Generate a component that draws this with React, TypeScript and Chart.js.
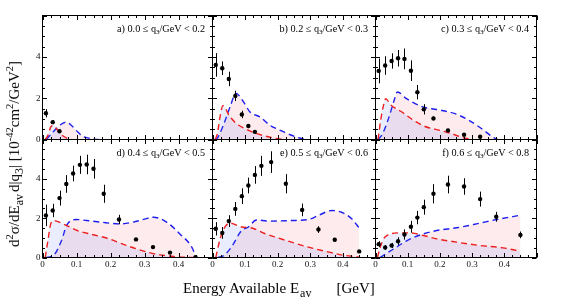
import React, { useEffect, useRef } from "react";
import { Chart, registerables } from "chart.js";
Chart.register(...registerables);

// ---------- data ----------
const panelLetters = ["a", "b", "c", "d", "e", "f"];
const q3Low = [0.0, 0.2, 0.3, 0.4, 0.5, 0.6];
const q3High = [0.2, 0.3, 0.4, 0.5, 0.6, 0.8];

const xTickLabels = ["0", "0.1", "0.2", "0.3", "0.4"];
const xTickValues = [0, 0.1, 0.2, 0.3, 0.4];
const yTickLabels = ["0", "2", "4"];
const yTickValues = [0, 2, 4];

const aX = [0.01, 0.03, 0.05];
const aY = [1.27, 0.84, 0.4];
const aE = [0.2, 0.1, 0.08];
const aRedX = [0.008, 0.016, 0.024, 0.031, 0.041, 0.055, 0.07, 0.085];
const aRedY = [0, 0.2, 0.6, 0.68, 0.52, 0.24, 0.08, 0];
const aBlueX = [0.011, 0.031, 0.05, 0.07, 0.085, 0.104, 0.119, 0.134, 0.153, 0.165];
const aBlueY = [0, 0.36, 0.68, 0.84, 0.68, 0.36, 0.15, 0.08, 0.02, 0];

const bX = [0.01, 0.03, 0.05, 0.07, 0.09, 0.11, 0.13];
const bY = [3.61, 3.45, 2.93, 2.11, 1.21, 0.65, 0.37];
const bE = [0.57, 0.33, 0.35, 0.25, 0.18, 0.1, 0.08];
const bRedX = [0.008, 0.015, 0.023, 0.032, 0.052, 0.074, 0.1, 0.136, 0.177, 0.2, 0.22];
const bRedY = [0, 0.28, 1.09, 1.64, 1.14, 0.76, 0.52, 0.28, 0.11, 0.04, 0];
const bBlueX = [0.008, 0.013, 0.033, 0.054, 0.072, 0.095, 0.115, 0.146, 0.177, 0.208, 0.238, 0.27, 0.285];
const bBlueY = [0, 0.03, 0.68, 1.58, 2.23, 1.82, 1.33, 1.09, 0.68, 0.44, 0.23, 0.06, 0];

const cX = [0.01, 0.03, 0.05, 0.07, 0.09, 0.11, 0.13, 0.15, 0.18, 0.225, 0.275, 0.325];
const cY = [3.32, 3.58, 3.8, 3.93, 3.9, 3.33, 2.29, 1.46, 1.02, 0.44, 0.23, 0.13];
const cE = [0.6, 0.45, 0.37, 0.4, 0.5, 0.5, 0.35, 0.25, 0.1, 0.08, 0.06, 0.05];
const cRedX = [0.008, 0.016, 0.025, 0.032, 0.046, 0.082, 0.118, 0.154, 0.2, 0.237, 0.267, 0.29, 0.3];
const cRedY = [0, 0.93, 1.66, 1.98, 1.69, 1.33, 0.93, 0.63, 0.44, 0.28, 0.11, 0.03, 0];
const cBlueX = [0.008, 0.022, 0.042, 0.058, 0.068, 0.096, 0.147, 0.19, 0.247, 0.29, 0.33, 0.365, 0.38];
const cBlueY = [0, 0.28, 1.09, 1.9, 2.3, 1.98, 1.58, 1.45, 1.25, 0.93, 0.52, 0.11, 0];

const dX = [0.01, 0.03, 0.05, 0.07, 0.09, 0.11, 0.13, 0.15, 0.18, 0.225, 0.275, 0.325, 0.375, 0.45];
const dY = [2.14, 2.39, 3.02, 3.74, 4.27, 4.71, 4.73, 4.51, 3.24, 1.93, 0.92, 0.53, 0.25, 0.02];
const dE = [0.55, 0.34, 0.38, 0.45, 0.4, 0.46, 0.5, 0.5, 0.46, 0.24, 0.06, 0.05, 0.04, 0.03];
const dRedX = [0.008, 0.016, 0.023, 0.031, 0.07, 0.104, 0.144, 0.19, 0.235, 0.28, 0.32, 0.36, 0.4, 0.45];
const dRedY = [0, 0.86, 1.63, 1.88, 1.63, 1.36, 1.18, 0.98, 0.69, 0.42, 0.22, 0.1, 0.03, 0];
const dBlueX = [0.01, 0.032, 0.056, 0.071, 0.1, 0.13, 0.17, 0.228, 0.267, 0.3, 0.326, 0.365, 0.404, 0.439, 0.452];
const dBlueY = [0, 0.1, 0.86, 1.63, 1.93, 1.88, 1.8, 1.71, 1.8, 1.95, 2.05, 1.8, 1.2, 0.53, 0];

const eX = [0.01, 0.03, 0.05, 0.07, 0.09, 0.11, 0.13, 0.15, 0.18, 0.225, 0.275, 0.325, 0.375, 0.45];
const eY = [1.46, 1.25, 1.85, 2.47, 3.12, 3.66, 4.2, 4.66, 4.85, 3.75, 2.42, 1.42, 0.9, 0.31];
const eE = [0.34, 0.3, 0.3, 0.35, 0.4, 0.4, 0.45, 0.51, 0.55, 0.49, 0.32, 0.17, 0.08, 0.06];
const eRedX = [0.01, 0.022, 0.032, 0.053, 0.09, 0.118, 0.16, 0.2, 0.25, 0.3, 0.35, 0.4, 0.45];
const eRedY = [0, 0.86, 1.37, 1.75, 1.55, 1.51, 1.22, 1.0, 0.74, 0.5, 0.3, 0.12, 0.02];
const eBlueX = [0.017, 0.035, 0.058, 0.089, 0.109, 0.135, 0.171, 0.243, 0.294, 0.325, 0.366, 0.396, 0.427, 0.45];
const eBlueY = [0, 0.1, 0.53, 1.37, 1.54, 1.91, 1.85, 1.88, 1.93, 2.14, 2.39, 2.3, 1.97, 1.5];

const fX = [0.01, 0.03, 0.05, 0.07, 0.09, 0.11, 0.13, 0.15, 0.18, 0.225, 0.275, 0.325, 0.375, 0.45];
const fY = [0.68, 0.51, 0.61, 0.83, 1.17, 1.56, 2.03, 2.56, 3.24, 3.71, 3.61, 2.97, 2.07, 1.15];
const fE = [0.15, 0.12, 0.13, 0.2, 0.26, 0.3, 0.34, 0.38, 0.49, 0.45, 0.42, 0.38, 0.25, 0.17];
const fRedX = [0.006, 0.015, 0.025, 0.036, 0.067, 0.108, 0.149, 0.19, 0.252, 0.324, 0.396, 0.45];
const fRedY = [0, 0.53, 0.95, 1.12, 1.25, 1.25, 1.12, 0.95, 0.78, 0.61, 0.49, 0.32];
const fBlueX = [0.014, 0.057, 0.098, 0.139, 0.19, 0.252, 0.314, 0.376, 0.45];
const fBlueY = [0, 0.44, 0.86, 1.15, 1.37, 1.51, 1.71, 1.93, 2.15];

// ---------- layout / style ----------
const W = 565;
const H = 308;
const colEdges = [42.5, 212.5, 375.5, 536.5];
const rowEdges = [15.5, 139.5, 257.5];
const SERIF = '"Liberation Serif", "Times New Roman", serif';
const RED = "rgb(238,30,30)";
const BLUE = "rgb(30,30,238)";
const RED_FILL = "rgba(70,110,235,0.12)";
const BLUE_FILL = "rgba(235,60,80,0.10)";

const panels = [
  { x: aX, y: aY, e: aE, rx: aRedX, ry: aRedY, bx: aBlueX, by: aBlueY },
  { x: bX, y: bY, e: bE, rx: bRedX, ry: bRedY, bx: bBlueX, by: bBlueY },
  { x: cX, y: cY, e: cE, rx: cRedX, ry: cRedY, bx: cBlueX, by: cBlueY },
  { x: dX, y: dY, e: dE, rx: dRedX, ry: dRedY, bx: dBlueX, by: dBlueY },
  { x: eX, y: eY, e: eE, rx: eRedX, ry: eRedY, bx: eBlueX, by: eBlueY },
  { x: fX, y: fY, e: fE, rx: fRedX, ry: fRedY, bx: fBlueX, by: fBlueY },
];

const pts = (xs: number[], ys: number[]) => xs.map((x, i) => ({ x, y: ys[i] }));

const framePlugin = {
  id: "rootFrame",
  afterDatasetsDraw(chart: any, _args: any, opts: any) {
    const ctx = chart.ctx;
    const xs = chart.scales.x;
    const ys = chart.scales.y;
    ctx.save();
    ctx.strokeStyle = "#000";
    ctx.lineWidth = 1;
    const err: number[] = opts.err || [];
    const vx: number[] = opts.vx || [];
    const vy: number[] = opts.vy || [];
    for (let i = 0; i < vx.length; i++) {
      const px = Math.round(xs.getPixelForValue(vx[i])) + 0.5;
      ctx.beginPath();
      ctx.moveTo(px, ys.getPixelForValue(vy[i] - err[i]));
      ctx.lineTo(px, ys.getPixelForValue(vy[i] + err[i]));
      ctx.stroke();
    }
    ctx.restore();
  },
  afterDraw(chart: any, _args: any, opts: any) {
    const ctx = chart.ctx;
    const { left, right, top, bottom } = chart.chartArea;
    const xs = chart.scales.x;
    const ys = chart.scales.y;
    ctx.save();
    ctx.strokeStyle = "#000";
    ctx.lineWidth = 1;
    ctx.strokeRect(left, top, right - left, bottom - top);
    ctx.beginPath();
    for (let k = 0; k <= 20; k++) {
      const v = k * 0.025;
      const len = k % 4 === 0 ? 4.5 : 2.5;
      const px = Math.round(xs.getPixelForValue(v)) + 0.5;
      ctx.moveTo(px, bottom);
      ctx.lineTo(px, bottom - len);
      ctx.moveTo(px, top);
      ctx.lineTo(px, top + len);
    }
    for (let k = 0; k <= 12; k++) {
      const v = k * 0.5;
      const len = k % 4 === 0 ? 4.5 : 2.5;
      const py = Math.round(ys.getPixelForValue(v)) + 0.5;
      ctx.moveTo(left, py);
      ctx.lineTo(left + len, py);
      ctx.moveTo(right, py);
      ctx.lineTo(right - len, py);
    }
    ctx.stroke();
    ctx.fillStyle = "#111";
    ctx.font = `9px ${SERIF}`;
    if (opts.showY) {
      ctx.textAlign = "right";
      ctx.textBaseline = "middle";
      yTickValues.forEach((v, i) => ctx.fillText(yTickLabels[i], left - 2, ys.getPixelForValue(v)));
    }
    if (opts.showX) {
      ctx.textAlign = "center";
      ctx.textBaseline = "top";
      xTickValues.forEach((v, i) => ctx.fillText(xTickLabels[i], xs.getPixelForValue(v), bottom + 3));
    }
    ctx.restore();
  },
};

export default function App() {
  const refs = useRef<(HTMLCanvasElement | null)[]>([]);

  useEffect(() => {
    const charts = panels.map((p, idx) => {
      const col = idx % 3;
      const row = Math.floor(idx / 3);
      const left = colEdges[col];
      const right = colEdges[col + 1];
      const top = rowEdges[row];
      const bottom = rowEdges[row + 1];
      return new Chart(refs.current[idx] as HTMLCanvasElement, {
        type: "line",
        data: {
          datasets: [
            {
              label: "data",
              data: pts(p.x, p.y),
              showLine: false,
              pointRadius: 2.2,
              pointBackgroundColor: "#000",
              pointBorderWidth: 0,
              borderColor: "#000",
              fill: false,
            },
            {
              label: "model red",
              data: pts(p.rx, p.ry),
              borderColor: RED,
              borderDash: [6, 4],
              borderWidth: 1.4,
              pointRadius: 0,
              fill: "origin",
              backgroundColor: RED_FILL,
              cubicInterpolationMode: "monotone",
            },
            {
              label: "model blue",
              data: pts(p.bx, p.by),
              borderColor: BLUE,
              borderDash: [6, 4],
              borderWidth: 1.4,
              pointRadius: 0,
              fill: "origin",
              backgroundColor: BLUE_FILL,
              cubicInterpolationMode: "monotone",
            },
          ],
        },
        options: {
          animation: false,
          responsive: false,
          devicePixelRatio: 1,
          events: [],
          layout: { padding: { left, top, right: W - right, bottom: H - bottom } },
          scales: {
            x: { type: "linear", min: 0, max: 0.5, display: false },
            y: { type: "linear", min: 0, max: 6, display: false },
          },
          plugins: {
            legend: { display: false },
            tooltip: { enabled: false },
            rootFrame: { err: p.e, vx: p.x, vy: p.y, showY: col === 0, showX: row === 1 },
          } as any,
        },
        plugins: [framePlugin],
      } as any);
    });
    return () => charts.forEach((c) => c.destroy());
  }, []);

  const sup = { fontSize: 10.5, position: "relative" as const, top: -6 };
  const sub = { fontSize: 12, position: "relative" as const, top: 4 };

  return (
    <div style={{ position: "fixed", left: 0, top: 0, width: W, height: H, background: "#fff", fontFamily: SERIF, color: "#000" }}>
      {panels.map((_, idx) => (
        <canvas
          key={idx}
          ref={(el) => { refs.current[idx] = el; }}
          width={W}
          height={H}
          style={{ position: "absolute", left: 0, top: 0, width: W, height: H }}
        />
      ))}
      {panelLetters.map((letter, idx) => {
        const col = idx % 3;
        const row = Math.floor(idx / 3);
        return (
          <div
            key={letter}
            style={{
              position: "absolute",
              right: W - colEdges[col + 1] + 7.5,
              top: rowEdges[row] + 8.5,
              fontSize: 10.2,
              lineHeight: "10px",
              whiteSpace: "nowrap",
            }}
          >
            {letter}) {q3Low[idx].toFixed(1)} ≤ q
            <span style={{ fontSize: 7, position: "relative", top: 2 }}>3</span>
            /GeV &lt; {q3High[idx].toFixed(1)}
          </div>
        );
      })}
      <div
        style={{
          position: "absolute",
          left: 183,
          top: 281,
          fontSize: 15,
          lineHeight: "15px",
          whiteSpace: "nowrap",
        }}
      >
        Energy Available E
        <span style={{ ...sub, marginLeft: 1, marginRight: 25 }}>av</span>
        [GeV]
      </div>
      <div
        style={{
          position: "absolute",
          left: 15,
          top: 154,
          fontSize: 15,
          lineHeight: "15px",
          whiteSpace: "nowrap",
          transform: "translate(-50%, -50%) rotate(-90deg)",
        }}
      >
        d<span style={sup}>2</span>σ/dE
        <span style={{ ...sub, marginRight: 2 }}>av</span>d|q
        <span style={sub}>3</span>| [10
        <span style={sup}>-42</span>cm
        <span style={sup}>2</span>/GeV
        <span style={sup}>2</span>]
      </div>
    </div>
  );
}
